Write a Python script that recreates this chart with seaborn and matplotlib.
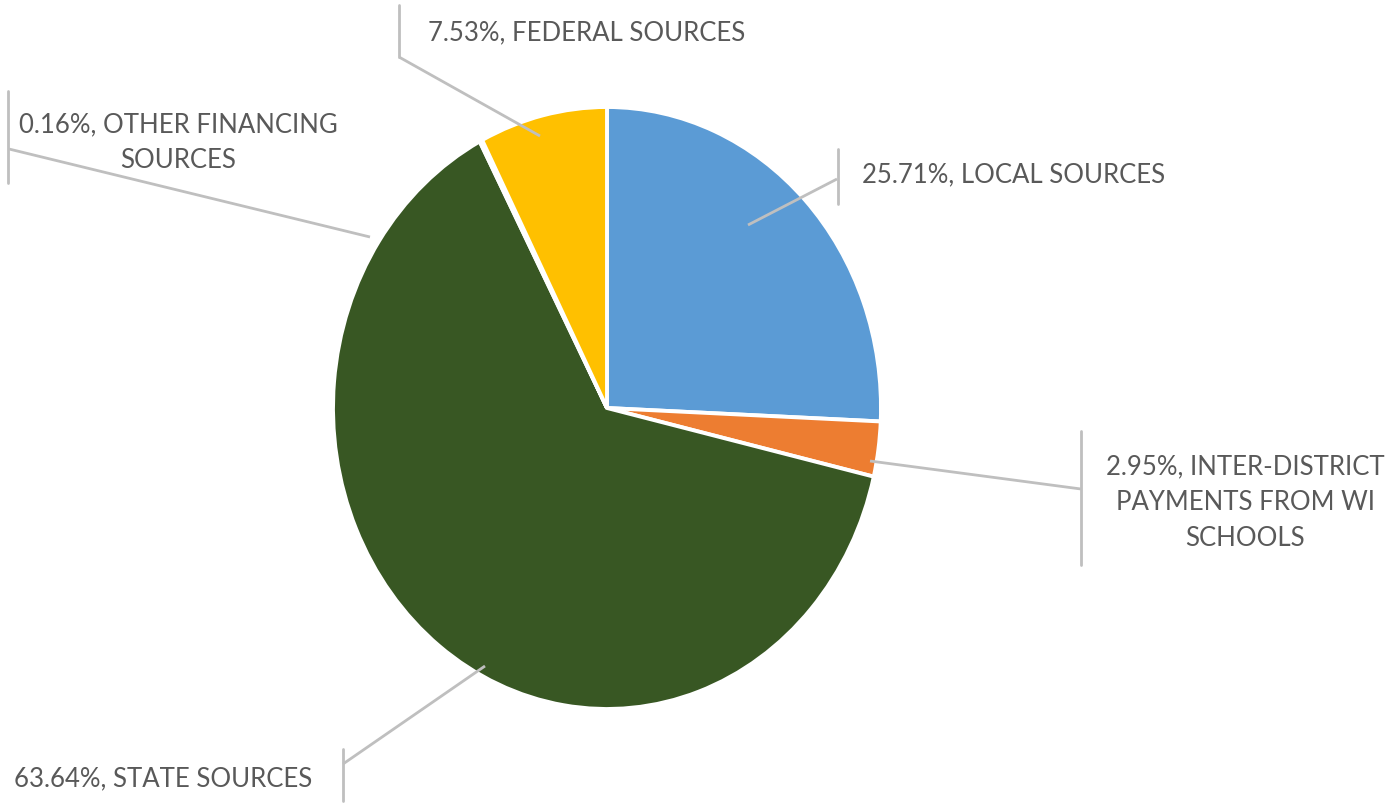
import matplotlib
matplotlib.use("Agg")
import matplotlib.pyplot as plt
import seaborn as sns
import numpy as np

sns.set_theme(style="white")
plt.rcParams['font.family'] = ['Lato', 'DejaVu Sans']

categories = ["LOCAL SOURCES", "INTER-DISTRICT PAYMENTS FROM WI SCHOOLS",
              "STATE SOURCES", "OTHER FINANCING SOURCES", "FEDERAL SOURCES"]
values = [25.71, 2.95, 63.64, 0.16, 7.53]
label_text = ["25.71%, LOCAL SOURCES",
              "2.95%, INTER-DISTRICT\nPAYMENTS FROM WI\nSCHOOLS",
              "63.64%, STATE SOURCES",
              "0.16%, OTHER FINANCING\nSOURCES",
              "7.53%, FEDERAL SOURCES"]
colors = ["#5B9BD5", "#ED7D31", "#385723", "#A5A5A5", "#FFC000"]

W, H = 1395, 804
CX, CY, RX, RY = 607, 409, 274, 301

def P(px, py):
    return ((px - CX) / RX, (CY - py) / RY)

fig = plt.figure(figsize=(W / 100, H / 100), dpi=100)
ax = fig.add_axes([0, 0, 1, 1])
ax.pie(values, colors=colors, startangle=90, counterclock=False,
       wedgeprops=dict(edgecolor="white", linewidth=2.8))
ax.set_aspect("auto")
ax.set_xlim(-CX / RX, (W - CX) / RX)
ax.set_ylim(-(H - CY) / RY, CY / RY)
ax.axis("off")

line_c = "#BFBFBF"
txt_c = "#595959"
fs = 18.5

# layout: (start px, elbow px, bar x, bar y0, bar y1, text x, text y, ha)
layout = [
    ((748, 226), (837, 180), 838, 150, 205, 862, 175, "left"),
    ((870, 462), (1081, 490), 1081, 432, 566, 1245, 503, "center"),
    ((485, 667), (343, 765), 343, 750, 802, 312, 779, "right"),
    ((370, 238), (9, 150), 8, 92, 184, 178, 143, "center"),
    ((540, 137), (399, 58), 399, 6, 58, 428, 33, "left"),
]

for lab, (s, e, bx, by0, by1, tx, ty, ha) in zip(label_text, layout):
    x0, y0 = P(*s)
    x1, y1 = P(*e)
    ax.plot([x0, x1], [y0, y1], color=line_c, lw=2, solid_capstyle="butt")
    bxa, bya = P(bx, by0)
    _, byb = P(bx, by1)
    ax.plot([bxa, bxa], [bya, byb], color=line_c, lw=2)
    tdx, tdy = P(tx, ty)
    ax.text(tdx, tdy, lab, ha=ha, va="center", color=txt_c, fontsize=fs,
            multialignment="center", linespacing=1.55)

fig.savefig("out.png", dpi=100, facecolor="white")
